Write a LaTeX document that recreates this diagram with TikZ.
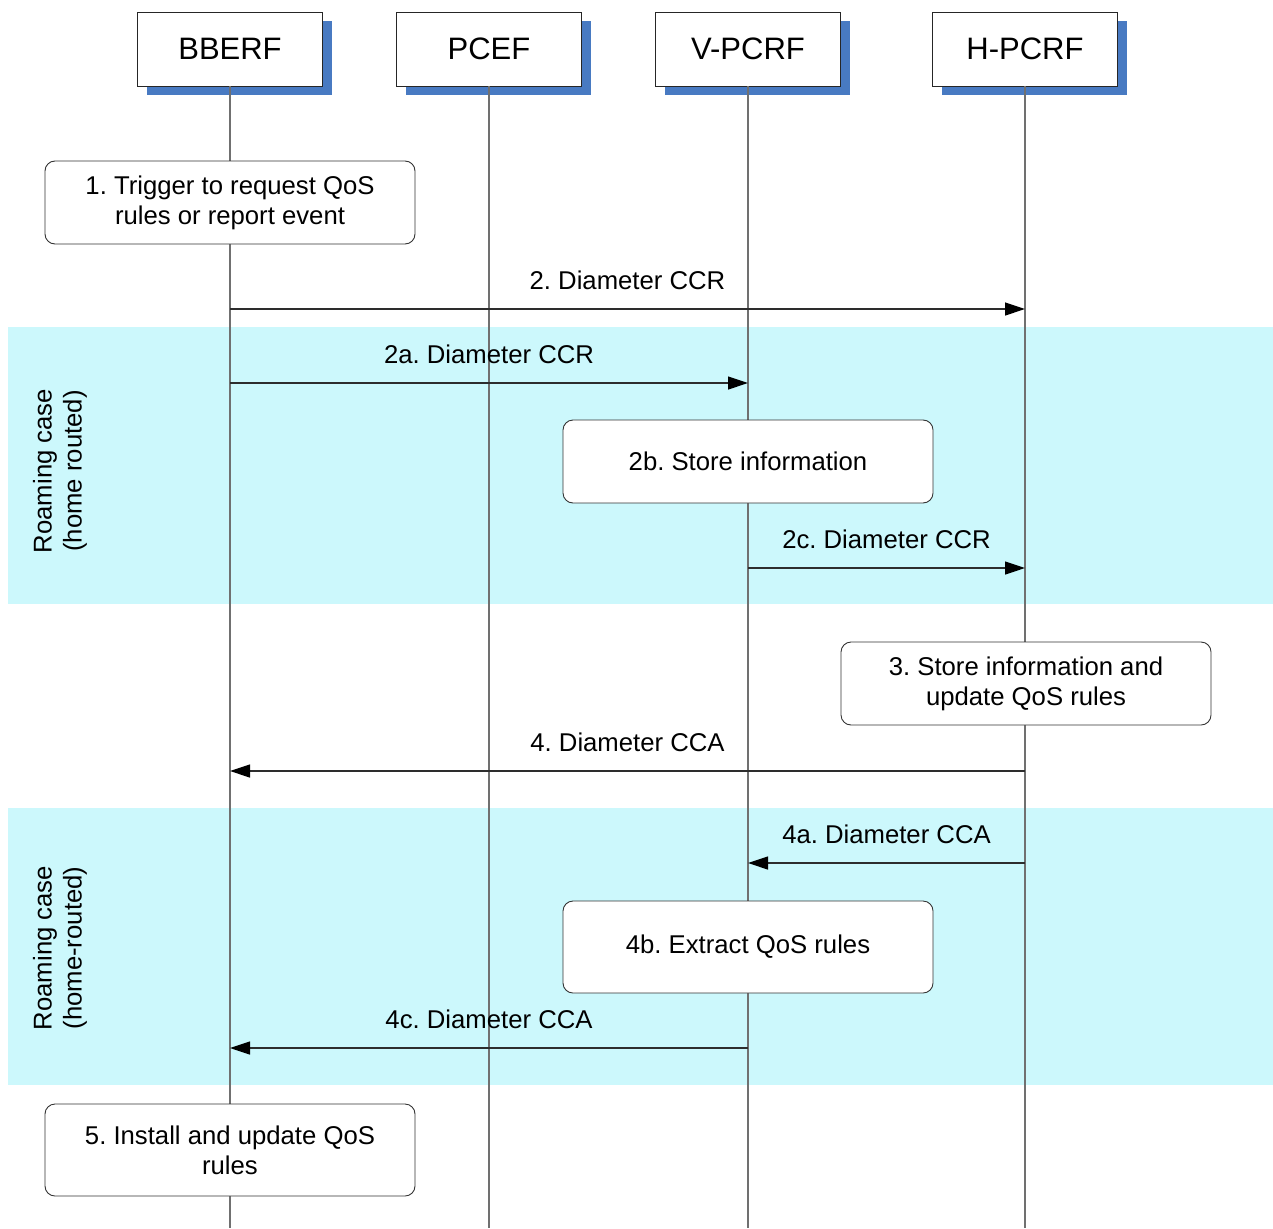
\documentclass[tikz,border=0pt]{standalone}
\usepackage{fontspec}
\setmainfont{Liberation Sans}
\frenchspacing
\usetikzlibrary{positioning,arrows.meta,shadows}
\definecolor{bandcyan}{RGB}{204,248,252}
\definecolor{shadowblue}{RGB}{72,122,194}
\definecolor{lifegray}{RGB}{112,112,112}
\definecolor{msgdark}{RGB}{45,45,45}
\tikzset{
  entity/.style={draw=black!85, fill=white, minimum width=185pt, minimum height=74pt,
                 inner sep=0pt, font=\fontsize{31}{36}\selectfont,
                 general shadow={fill=shadowblue, shadow xshift=9.5pt, shadow yshift=-9.5pt}},
  lifeline/.style={lifegray, line width=1.4pt},
  stepbox/.style={draw=black!80, fill=white, rounded corners=10pt, line width=0.9pt,
                  minimum width=370pt, inner sep=0pt, align=center,
                  font=\fontsize{25.7}{30}\selectfont},
  msg/.style={-{Triangle[length=20pt,width=13pt,color=black,fill=black]}, msgdark, line width=1.2pt},
  msglbl/.style={midway, yshift=29pt, text=black, inner sep=0pt,
                 font=\fontsize{25.7}{30}\selectfont},
  band/.style={fill=bandcyan},
  bandlbl/.style={rotate=90, align=center, inner sep=0pt,
                  font=\fontsize{25.7}{30}\selectfont}
}

\begin{document}
\begin{tikzpicture}[x=1pt,y=-1pt]
\useasboundingbox (0,0) rectangle (1273,1228);
% roaming bands
\fill[band] (8,327) rectangle (1273,604);
\fill[band] (8,808) rectangle (1273,1085);
\node[bandlbl] (roam1) at (60,471) {Roaming case\\(home routed)};
\node[bandlbl] (roam2) at (60,948) {Roaming case\\(home-routed)};
% entities and lifelines
\node[entity] (bberf) at (230,49) {\raisebox{1pt}{BBERF}};
\node[entity] (pcef) at (489,49) {\raisebox{1pt}{PCEF}};
\node[entity] (vpcrf) at (748,49) {\raisebox{1pt}{V-PCRF}};
\node[entity] (hpcrf) at (1025,49) {\raisebox{1pt}{H-PCRF}};
\coordinate (bottom) at (0,1228);
\foreach \e in {bberf,pcef,vpcrf,hpcrf}
  \draw[lifeline] (\e.south) -- (\e.south |- bottom);
% steps
\node[stepbox, minimum height=83pt] (trigger) at (230,202.5) {1. Trigger to request QoS\\rules or report event};
\node[stepbox, minimum height=83pt] (store) at (748,461.5) {2b. Store information};
\node[stepbox, minimum height=83pt] (update) at (1026,683.5) {3. Store information and\\update QoS rules};
\node[stepbox, minimum height=92pt] (extract) at (748,947) {4b. Extract QoS rules};
\node[stepbox, minimum height=92pt] (install) at (230,1150) {5. Install and update QoS\\rules};
% messages
\coordinate (ccr-s) at (230,309);   \coordinate (ccr-e) at (1025,309);
\coordinate (ccra-s) at (230,383);  \coordinate (ccra-e) at (748,383);
\coordinate (ccrc-s) at (748,568);  \coordinate (ccrc-e) at (1025,568);
\coordinate (cca-s) at (1025,771);  \coordinate (cca-e) at (230,771);
\coordinate (ccaa-s) at (1025,863); \coordinate (ccaa-e) at (748,863);
\coordinate (ccac-s) at (748,1048); \coordinate (ccac-e) at (230,1048);
\draw[msg] (ccr-s) -- node[msglbl] {2. Diameter CCR} (ccr-e);
\draw[msg] (ccra-s) -- node[msglbl] {2a. Diameter CCR} (ccra-e);
\draw[msg] (ccrc-s) -- node[msglbl] {2c. Diameter CCR} (ccrc-e);
\draw[msg] (cca-s) -- node[msglbl] {4. Diameter CCA} (cca-e);
\draw[msg] (ccaa-s) -- node[msglbl] {4a. Diameter CCA} (ccaa-e);
\draw[msg] (ccac-s) -- node[msglbl] {4c. Diameter CCA} (ccac-e);
\end{tikzpicture}
\end{document}
